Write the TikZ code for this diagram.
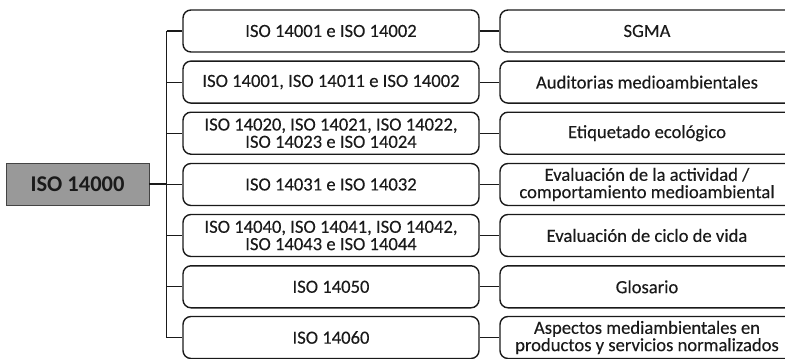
\documentclass[tikz,border=0pt]{standalone}
\usepackage{fontspec}
\setmainfont{Carlito}[FakeBold=0.25]
\newfontfamily\rootfont{Carlito}[UprightFont=* Bold]
\definecolor{ink}{HTML}{1A1A1A}
\definecolor{rootfill}{HTML}{999999}
\definecolor{rootline}{HTML}{444444}
\lineskiplimit=-20pt
\begin{document}
\begin{tikzpicture}[x=1pt,y=-1pt,
  txt/.style={font=\fontsize{18.6}{17.3}\selectfont, text=ink, align=center, inner sep=0pt},
  lbox/.style={txt, draw=ink, line width=1.4pt, rounded corners=8pt, minimum width=296pt, minimum height=42pt},
  rbox/.style={txt, draw=ink, line width=1.4pt, rounded corners=8pt, minimum width=294pt, minimum height=42pt},
  rootbox/.style={draw=rootline, line width=0.8pt, fill=rootfill, minimum width=143pt, minimum height=42pt, inner sep=0pt, font=\fontsize{22.5}{24}\rootfont, text=ink},
  conn/.style={draw=ink, line width=1.2pt}
]
\useasboundingbox (0,0) rectangle (785,359);
\clip (0,0) rectangle (785,359);

\node[rootbox] (root) at (77.5,184) {ISO 14000};

\node[lbox] (L1) at (331,31)    {ISO 14001 e ISO 14002};
\node[lbox] (L2) at (331,82.1)  {ISO 14001, ISO 14011 e ISO 14002};
\node[lbox] (L3) at (331,133.2) {ISO 14020, ISO 14021, ISO 14022,\\ISO 14023 e ISO 14024};
\node[lbox] (L4) at (331,184.5) {ISO 14031 e ISO 14032};
\node[lbox] (L5) at (331,235.5) {ISO 14040, ISO 14041, ISO 14042,\\ISO 14043 e ISO 14044};
\node[lbox] (L6) at (331,286.8) {ISO 14050};
\node[lbox] (L7) at (331,337.5) {ISO 14060};

\node[rbox] (R1) at (647,31)    {SGMA};
\node[rbox] (R2) at (647,82.1)  {Auditorias medioambientales};
\node[rbox] (R3) at (647,133.2) {Etiquetado ecológico};
\node[rbox] (R4) at (647,184.5) {Evaluación de la actividad /\\comportamiento medioambiental};
\node[rbox] (R5) at (647,235.5) {Evaluación de ciclo de vida};
\node[rbox] (R6) at (647,286.8) {Glosario};
\node[rbox] (R7) at (647,337.5) {Aspectos mediambientales en\\productos y servicios normalizados};

\coordinate (T1) at (166.5,31);
\coordinate (T7) at (166.5,337.5);

\draw[conn] (T1) -- (T7);
\draw[conn] (root.east) -- (root.east -| T1);
\foreach \i in {1,...,7} {
  \draw[conn] (L\i.west -| T1) -- (L\i.west);
  \draw[conn] (L\i.east) -- (R\i.west);
}
\end{tikzpicture}
\end{document}
